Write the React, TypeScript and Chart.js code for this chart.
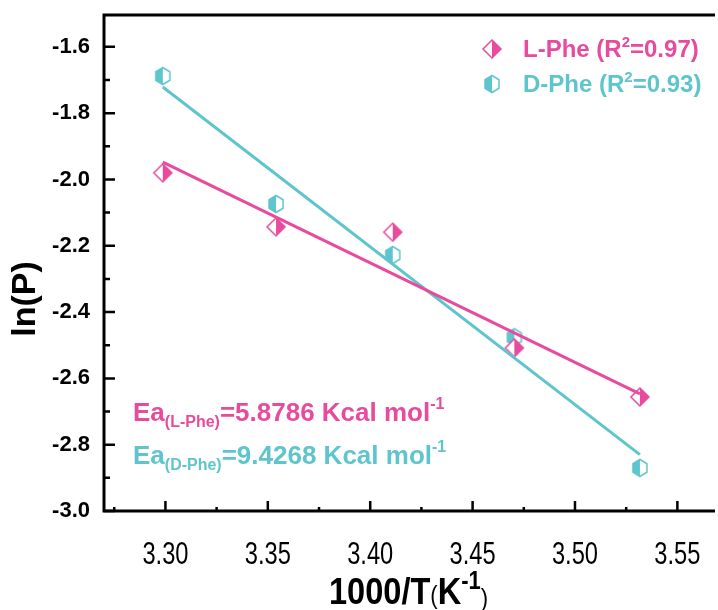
import React, { useEffect, useRef } from 'react';
import { Chart, registerables } from 'chart.js';
Chart.register(...registerables);

const PINK = '#E84B9D';
const CYAN = '#5EC5CC';

// 1000/T values (K^-1)
const invTemp = [3.2987, 3.354, 3.411, 3.4704, 3.5317];
// ln(P) values
const lPhe = [-1.98, -2.143, -2.159, -2.508, -2.656];
const dPhe = [-1.688, -2.074, -2.228, -2.476, -2.87];
// fitted lines (end points)
const fitX = [3.2987, 3.5317];
const lFit = [-1.948, -2.647];
const dFit = [-1.721, -2.83];

const xTicks = [3.3, 3.35, 3.4, 3.45, 3.5, 3.55];
const xMinor = [3.275, 3.325, 3.375, 3.425, 3.475, 3.525];
const yTicks = [-3.0, -2.8, -2.6, -2.4, -2.2, -2.0, -1.8, -1.6];
const yMinor = [-2.9, -2.7, -2.5, -2.3, -2.1, -1.9, -1.7];

const legendItems = [
  { name: 'L-Phe (R', sup: '2', tail: '=0.97)', color: PINK, kind: 'diamond' },
  { name: 'D-Phe (R', sup: '2', tail: '=0.93)', color: CYAN, kind: 'hex' },
];
const eaLabels = [
  { main: 'Ea', sub: '(L-Phe)', val: '=5.8786 Kcal mol', sup: '-1', color: PINK },
  { main: 'Ea', sub: '(D-Phe)', val: '=9.4268 Kcal mol', sup: '-1', color: CYAN },
];

const FONT = '"Liberation Sans", Arial, sans-serif';

function makeDiamond(color: string) {
  const c = document.createElement('canvas');
  c.width = 22; c.height = 22;
  const g = c.getContext('2d')!;
  const cx = 11, cy = 11, r = 9;
  const full = () => { g.beginPath(); g.moveTo(cx, cy - r); g.lineTo(cx + r, cy); g.lineTo(cx, cy + r); g.lineTo(cx - r, cy); g.closePath(); };
  full(); g.fillStyle = '#fff'; g.fill();
  g.beginPath(); g.moveTo(cx, cy - r); g.lineTo(cx + r, cy); g.lineTo(cx, cy + r); g.closePath();
  g.fillStyle = color; g.fill();
  full(); g.strokeStyle = color; g.lineWidth = 1.5; g.stroke();
  return c;
}
function makeHex(color: string) {
  const c = document.createElement('canvas');
  c.width = 18; c.height = 20;
  const g = c.getContext('2d')!;
  const cx = 9, cy = 10, w = 7, h = 8.5;
  const full = () => { g.beginPath(); g.moveTo(cx, cy - h); g.lineTo(cx + w, cy - h / 2); g.lineTo(cx + w, cy + h / 2); g.lineTo(cx, cy + h); g.lineTo(cx - w, cy + h / 2); g.lineTo(cx - w, cy - h / 2); g.closePath(); };
  full(); g.fillStyle = '#fff'; g.fill();
  g.beginPath(); g.moveTo(cx, cy - h); g.lineTo(cx - w, cy - h / 2); g.lineTo(cx - w, cy + h / 2); g.lineTo(cx, cy + h); g.closePath();
  g.fillStyle = color; g.fill();
  full(); g.strokeStyle = color; g.lineWidth = 1.5; g.stroke();
  return c;
}

type Seg = { t: string; size: number; dy?: number; bold?: boolean };
function richWidth(ctx: CanvasRenderingContext2D, segs: Seg[]) {
  let w = 0;
  for (const s of segs) {
    ctx.font = `${s.bold === false ? '' : 'bold '}${s.size}px ${FONT}`;
    w += ctx.measureText(s.t).width;
  }
  return w;
}
function drawRich(ctx: CanvasRenderingContext2D, x: number, y: number, segs: Seg[], color: string) {
  ctx.fillStyle = color;
  ctx.textBaseline = 'alphabetic';
  ctx.textAlign = 'left';
  let cx = x;
  for (const s of segs) {
    ctx.font = `${s.bold === false ? '' : 'bold '}${s.size}px ${FONT}`;
    ctx.fillText(s.t, cx, y + (s.dy || 0));
    cx += ctx.measureText(s.t).width;
  }
}

export default function App() {
  const ref = useRef<HTMLCanvasElement>(null);
  useEffect(() => {
    const diamond = makeDiamond(PINK);
    const hex = makeHex(CYAN);
    const decor = {
      id: 'decor',
      afterDraw(chart: any) {
        const ctx: CanvasRenderingContext2D = chart.ctx;
        const { left, right, top, bottom } = chart.chartArea;
        const xs = chart.scales.x, ys = chart.scales.y;
        ctx.save();
        ctx.strokeStyle = '#000';
        ctx.lineWidth = 3;
        ctx.beginPath();
        ctx.moveTo(right + 2, top); ctx.lineTo(left, top); ctx.lineTo(left, bottom); ctx.lineTo(right + 2, bottom);
        ctx.stroke();
        ctx.lineWidth = 2.5;
        ctx.beginPath();
        for (const v of yTicks) { const p = ys.getPixelForValue(v); ctx.moveTo(left, p); ctx.lineTo(left + 11, p); }
        for (const v of yMinor) { const p = ys.getPixelForValue(v); ctx.moveTo(left, p); ctx.lineTo(left + 6, p); }
        for (const v of xTicks) { const p = xs.getPixelForValue(v); ctx.moveTo(p, bottom); ctx.lineTo(p, bottom - 10); }
        for (const v of xMinor) { const p = xs.getPixelForValue(v); ctx.moveTo(p, bottom); ctx.lineTo(p, bottom - 4); }
        ctx.stroke();

        // x tick labels (condensed)
        ctx.fillStyle = '#000';
        ctx.textAlign = 'center';
        ctx.textBaseline = 'alphabetic';
        ctx.font = `32px ${FONT}`;
        for (const v of xTicks) {
          const p = xs.getPixelForValue(v);
          ctx.save();
          ctx.translate(p, 564);
          ctx.scale(0.74, 1);
          ctx.fillText(v.toFixed(2), 0, 0);
          ctx.restore();
        }

        // y title
        ctx.save();
        ctx.translate(26, 299);
        ctx.rotate(-Math.PI / 2);
        ctx.font = `bold 34px ${FONT}`;
        ctx.fillStyle = '#000';
        ctx.textAlign = 'center';
        ctx.textBaseline = 'middle';
        ctx.fillText('ln(P)', 0, 0);
        ctx.restore();

        // x title (condensed)
        const xt: Seg[] = [
          { t: '1000/T', size: 37 },
          { t: '(', size: 25, bold: false },
          { t: 'K', size: 37 },
          { t: '-1', size: 25, dy: -15 },
          { t: ')', size: 25, bold: false, dy: 3 },
        ];
        const sx = 0.88;
        const w = richWidth(ctx, xt) * sx;
        ctx.save();
        ctx.translate((left + right) / 2 - w / 2, 604);
        ctx.scale(sx, 1);
        drawRich(ctx, 0, 0, xt, '#000');
        ctx.restore();

        // legend
        legendItems.forEach((it, i) => {
          const y = 49 + i * 35;
          const img = it.kind === 'diamond' ? diamond : hex;
          ctx.drawImage(img, 492 - img.width / 2, y - img.height / 2);
          drawRich(ctx, 523, y + 8, [
            { t: it.name, size: 24 },
            { t: it.sup, size: 15, dy: -10 },
            { t: it.tail, size: 24 },
          ], it.color);
        });

        // Ea labels
        eaLabels.forEach((it, i) => {
          const y = 421 + i * 43;
          drawRich(ctx, 133, y, [
            { t: it.main, size: 26 },
            { t: it.sub, size: 16, dy: 6 },
            { t: it.val, size: 26 },
            { t: it.sup, size: 16, dy: -12 },
          ], it.color);
        });
        ctx.restore();
      },
    };

    const chart = new Chart(ref.current!, {
      type: 'scatter',
      data: {
        datasets: [
          {
            type: 'line',
            label: 'L-Phe fit',
            data: fitX.map((x, i) => ({ x, y: lFit[i] })),
            borderColor: PINK,
            borderWidth: 3,
            pointRadius: 0,
            order: 0,
          } as any,
          {
            type: 'line',
            label: 'D-Phe fit',
            data: fitX.map((x, i) => ({ x, y: dFit[i] })),
            borderColor: CYAN,
            borderWidth: 3,
            pointRadius: 0,
            order: 0,
          } as any,
          {
            label: 'L-Phe',
            data: invTemp.map((x, i) => ({ x, y: lPhe[i] })),
            pointStyle: diamond,
            order: 1,
          },
          {
            label: 'D-Phe',
            data: invTemp.map((x, i) => ({ x, y: dPhe[i] })),
            pointStyle: hex,
            order: 1,
          },
        ],
      },
      options: {
        animation: false,
        responsive: false,
        events: [],
        layout: { padding: { top: 15, right: 0, left: 0, bottom: 0 } },
        plugins: { legend: { display: false }, tooltip: { enabled: false } },
        scales: {
          x: {
            type: 'linear',
            min: 3.27,
            max: 3.5674,
            grid: { display: false, drawTicks: false },
            border: { display: false },
            afterFit: (s: any) => { s.height = 99; s.paddingLeft = 0; s.paddingRight = 0; },
            afterBuildTicks: (s: any) => { s.ticks = xTicks.map((v) => ({ value: v })); },
            ticks: { display: false },
          },
          y: {
            type: 'linear',
            min: -3.0,
            max: -1.504,
            grid: { display: false, drawTicks: false },
            border: { display: false },
            afterFit: (s: any) => { s.width = 104; s.paddingTop = 0; s.paddingBottom = 0; },
            afterBuildTicks: (s: any) => { s.ticks = yTicks.map((v) => ({ value: v })); },
            ticks: {
              padding: 14,
              color: '#000',
              font: { family: FONT, size: 22, weight: 'bold' },
              callback: (v: any) => Number(v).toFixed(1),
            },
          },
        },
      },
      plugins: [decor],
    });
    return () => chart.destroy();
  }, []);
  return (
    <div style={{ position: 'absolute', left: 0, top: 0, width: 718, height: 610, background: '#fff' }}>
      <canvas ref={ref} width={718} height={610} style={{ width: 718, height: 610 }} />
    </div>
  );
}
